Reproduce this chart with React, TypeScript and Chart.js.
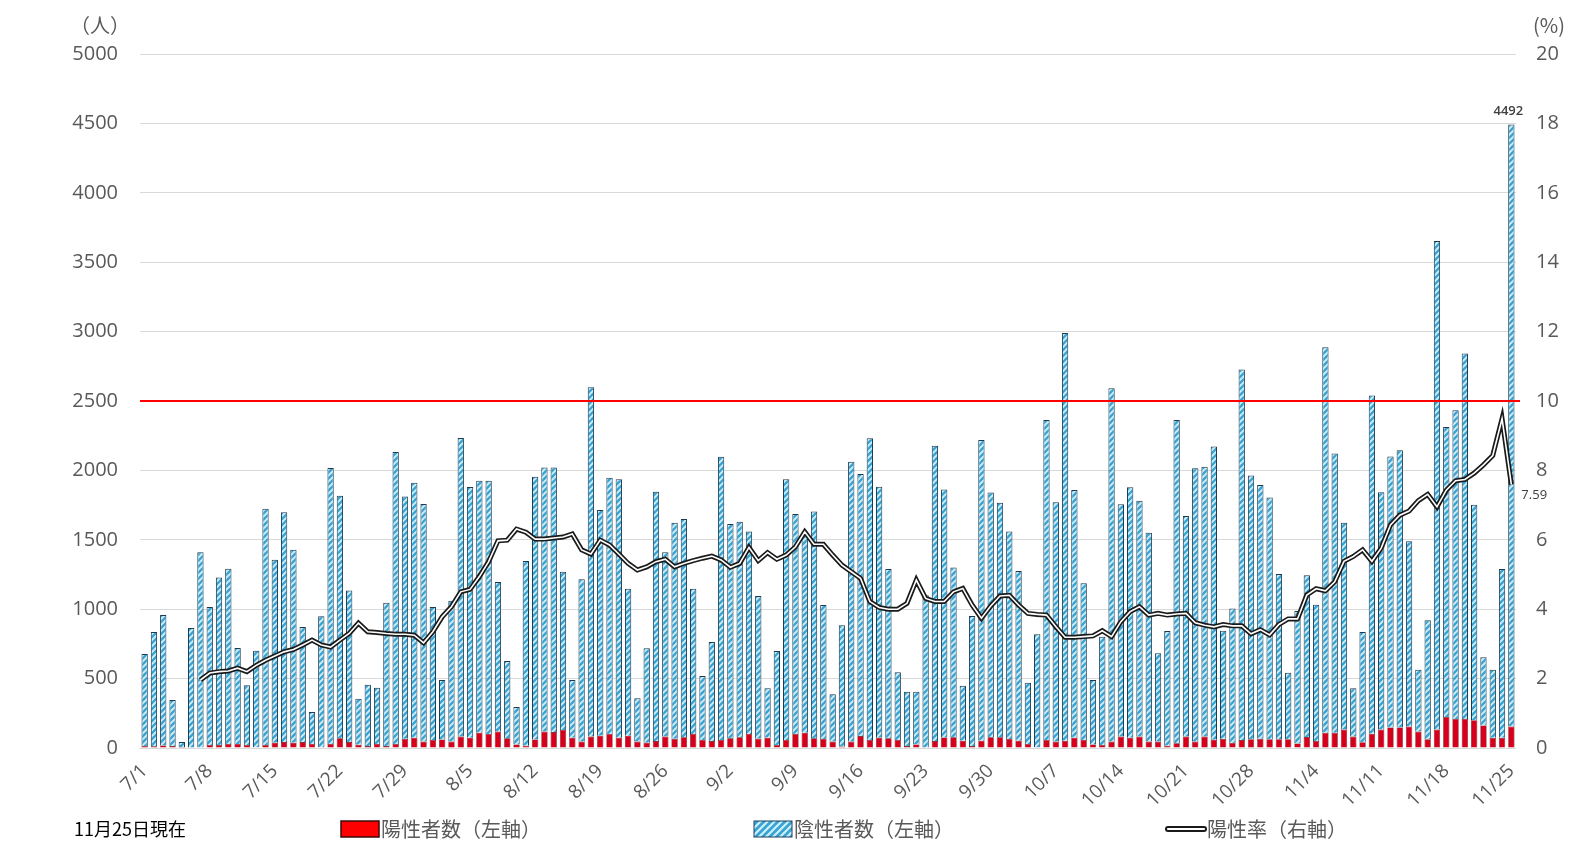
import React, { useEffect, useRef } from 'react';
import { Chart, registerables } from 'chart.js';
Chart.register(...registerables);

const categories = (
  '7/1 7/2 7/3 7/4 7/5 7/6 7/7 7/8 7/9 7/10 7/11 7/12 7/13 7/14 7/15 7/16 7/17 7/18 7/19 7/20 7/21 7/22 7/23 7/24 7/25 7/26 7/27 7/28 7/29 7/30 7/31 ' +
  '8/1 8/2 8/3 8/4 8/5 8/6 8/7 8/8 8/9 8/10 8/11 8/12 8/13 8/14 8/15 8/16 8/17 8/18 8/19 8/20 8/21 8/22 8/23 8/24 8/25 8/26 8/27 8/28 8/29 8/30 8/31 ' +
  '9/1 9/2 9/3 9/4 9/5 9/6 9/7 9/8 9/9 9/10 9/11 9/12 9/13 9/14 9/15 9/16 9/17 9/18 9/19 9/20 9/21 9/22 9/23 9/24 9/25 9/26 9/27 9/28 9/29 9/30 ' +
  '10/1 10/2 10/3 10/4 10/5 10/6 10/7 10/8 10/9 10/10 10/11 10/12 10/13 10/14 10/15 10/16 10/17 10/18 10/19 10/20 10/21 10/22 10/23 10/24 10/25 10/26 10/27 10/28 10/29 10/30 10/31 ' +
  '11/1 11/2 11/3 11/4 11/5 11/6 11/7 11/8 11/9 11/10 11/11 11/12 11/13 11/14 11/15 11/16 11/17 11/18 11/19 11/20 11/21 11/22 11/23 11/24 11/25'
).split(' ');

const tickLabels = ['7/1', '7/8', '7/15', '7/22', '7/29', '8/5', '8/12', '8/19', '8/26', '9/2', '9/9', '9/16', '9/23', '9/30', '10/7', '10/14', '10/21', '10/28', '11/4', '11/11', '11/18', '11/25'];

// 陽性者数
const positives = [
  15, 12, 18, 14, 8, 3, 3, 22, 22, 29, 29, 22, 5, 22, 38, 43, 38, 43, 29, 5, 29, 70, 43, 24, 14, 29, 14, 29, 66, 74, 46,
  58, 62, 46, 82, 74, 110, 101, 118, 70, 26, 17, 62, 118, 115, 130, 74, 46, 82, 89, 101, 74, 89, 46, 38, 50, 82, 66, 77, 101, 58,
  50, 58, 70, 77, 101, 67, 74, 22, 58, 101, 110, 70, 65, 46, 10, 46, 86, 58, 74, 70, 58, 14, 26, 3, 50, 76, 77, 53, 14, 53,
  77, 77, 65, 53, 29, 5, 58, 46, 53, 74, 58, 26, 22, 46, 82, 74, 82, 46, 46, 17, 34, 82, 46, 82, 60, 66, 36, 57, 63, 66, 63,
  63, 63, 33, 79, 51, 109, 109, 133, 82, 42, 103, 133, 148, 148, 154, 118, 63, 133, 224, 209, 209, 200, 163, 73, 73, 154
];

// 陰性者数
const negatives = [
  662, 824, 940, 332, 35, 861, 1408, 993, 1207, 1263, 691, 430, 696, 1702, 1319, 1655, 1391, 828, 230, 945, 1988, 1748, 1092, 331, 442, 405, 1033, 2103, 1746, 1837, 1712,
  958, 428, 1015, 2151, 1806, 1816, 1825, 1078, 557, 269, 1330, 1893, 1902, 1905, 1140, 416, 1169, 2517, 1626, 1846, 1862, 1059, 312, 680, 1797, 1328, 1557, 1573, 1047, 461,
  714, 2041, 1544, 1553, 1458, 1028, 356, 677, 1878, 1585, 1450, 1633, 965, 341, 874, 2017, 1888, 2173, 1809, 1220, 487, 392, 380, 1097, 2128, 1786, 1223, 396, 937, 2166,
  1763, 1690, 1494, 1222, 442, 814, 2305, 1724, 2937, 1785, 1129, 464, 780, 2545, 1674, 1804, 1700, 1505, 636, 826, 2329, 1589, 1969, 1945, 2113, 778, 969, 2670, 1901, 1829, 1741,
  1190, 479, 954, 1165, 981, 2778, 2013, 1489, 348, 793, 2436, 1710, 1952, 1998, 1335, 445, 857, 3520, 2088, 2224, 2633, 1552, 491, 490, 1216, 4338
];

// 陽性率 (%)
const positiveRate = [
  null, null, null, null, null, null, 1.96, 2.16, 2.2, 2.22, 2.3, 2.2, 2.38, 2.53, 2.65, 2.77, 2.84, 2.97, 3.11, 2.97, 2.91, 3.11, 3.3, 3.6, 3.35, 3.33, 3.3, 3.28, 3.28, 3.25, 3.03,
  3.35, 3.78, 4.07, 4.5, 4.57, 4.94, 5.37, 5.97, 5.99, 6.31, 6.22, 6.02, 6.02, 6.05, 6.08, 6.17, 5.71, 5.59, 5.99, 5.85, 5.59, 5.32, 5.13, 5.22, 5.37, 5.44, 5.22, 5.32, 5.4, 5.47,
  5.53, 5.42, 5.21, 5.32, 5.78, 5.4, 5.63, 5.44, 5.56, 5.8, 6.23, 5.87, 5.87, 5.56, 5.27, 5.08, 4.89, 4.22, 4.05, 4.0, 4.0, 4.17, 4.84, 4.31, 4.22, 4.22, 4.5, 4.6, 4.12, 3.74,
  4.09, 4.38, 4.4, 4.12, 3.88, 3.85, 3.83, 3.5, 3.19, 3.19, 3.21, 3.23, 3.38, 3.21, 3.64, 3.93, 4.07, 3.83, 3.88, 3.83, 3.86, 3.88, 3.61, 3.54, 3.49, 3.56, 3.52, 3.52, 3.29, 3.41, 3.26,
  3.56, 3.72, 3.72, 4.41, 4.59, 4.53, 4.79, 5.38, 5.52, 5.71, 5.38, 5.76, 6.43, 6.71, 6.83, 7.13, 7.31, 6.95, 7.43, 7.7, 7.74, 7.92, 8.16, 8.43, 9.49, 7.59
];

const threshold = 2500;
const leftAxis = { min: 0, max: 5000, step: 500 };
const rightAxis = { min: 0, max: 20, step: 2 };
const legendLabels = ['陽性者数（左軸）', '陰性者数（左軸）', '陽性率（右軸）'];
const noteText = '11月25日現在';
const leftUnit = '（人）';
const rightUnit = '(%)';

const JP = '"Noto Sans CJK JP", "Noto Sans", sans-serif';
const NUM = '"Open Sans", "Noto Sans", sans-serif';

function makeHatch(ctx: CanvasRenderingContext2D, size = 6) {
  const c = document.createElement('canvas');
  c.width = size;
  c.height = size;
  const g = c.getContext('2d')!;
  g.fillStyle = '#3aa3d3';
  g.fillRect(0, 0, size, size);
  g.strokeStyle = '#ccf1fb';
  g.lineWidth = size * 0.32;
  g.beginPath();
  g.moveTo(-1, size + 1); g.lineTo(size + 1, -1);
  g.moveTo(-1, 1); g.lineTo(1, -1);
  g.moveTo(size - 1, size + 1); g.lineTo(size + 1, size - 1);
  g.stroke();
  return ctx.createPattern(c, 'repeat')!;
}

export default function App() {
  const ref = useRef<HTMLCanvasElement | null>(null);
  useEffect(() => {
    const canvas = ref.current!;
    const ctx0 = canvas.getContext('2d')!;
    const hatch = makeHatch(ctx0, 6);
    const hatchLegend = makeHatch(ctx0, 7);

    const overlay = {
      id: 'overlay',
      afterDatasetsDraw(chart: any) {
        const { ctx, chartArea, scales } = chart;
        const ty = scales.y.getPixelForValue(threshold);
        ctx.save();
        ctx.strokeStyle = '#ff0000';
        ctx.lineWidth = 2;
        ctx.beginPath();
        ctx.moveTo(chartArea.left, ty);
        ctx.lineTo(chartArea.right + 4, ty);
        ctx.stroke();
        ctx.restore();
      },
      afterDraw(chart: any) {
        const { ctx } = chart;
        ctx.save();
        // value labels
        const last = negatives.length - 1;
        const barMeta = chart.getDatasetMeta(3);
        const bar = barMeta.data[last];
        ctx.fillStyle = '#404040';
        ctx.font = `600 13px ${NUM}`;
        ctx.textAlign = 'center';
        ctx.textBaseline = 'bottom';
        ctx.fillText(String(positives[last] + negatives[last]), bar.x - 3, bar.y - 7);
        const lineMeta = chart.getDatasetMeta(0);
        const pt = lineMeta.data[last];
        ctx.font = `13px ${NUM}`;
        ctx.textBaseline = 'middle';
        ctx.textAlign = 'left';
        ctx.fillText(String(positiveRate[last]), pt.x + 10, pt.y + 11);

        // units
        ctx.fillStyle = '#595959';
        ctx.font = `20px ${JP}`;
        ctx.textAlign = 'center';
        ctx.textBaseline = 'middle';
        ctx.fillText(leftUnit, 100, 25);
        ctx.fillText(rightUnit, 1549, 25);

        // note
        ctx.fillStyle = '#000';
        ctx.font = `18px ${JP}`;
        ctx.textAlign = 'left';
        ctx.fillText(noteText, 74, 829);

        // legend
        const ly = 829;
        ctx.font = `20px ${JP}`;
        ctx.fillStyle = '#ff0000';
        ctx.fillRect(341, 821, 38, 16);
        ctx.strokeStyle = '#3a0a0a';
        ctx.lineWidth = 1.5;
        ctx.strokeRect(341, 821, 38, 16);
        ctx.fillStyle = '#595959';
        ctx.fillText(legendLabels[0], 381, ly);

        ctx.fillStyle = hatchLegend;
        ctx.fillRect(754, 821, 38, 16);
        ctx.strokeStyle = '#1d3f5e';
        ctx.lineWidth = 1;
        ctx.strokeRect(754, 821, 38, 16);
        ctx.fillStyle = '#595959';
        ctx.fillText(legendLabels[1], 794, ly);

        ctx.lineCap = 'round';
        ctx.strokeStyle = '#1a1a1a';
        ctx.lineWidth = 6;
        ctx.beginPath(); ctx.moveTo(1168, ly); ctx.lineTo(1204, ly); ctx.stroke();
        ctx.strokeStyle = '#ffffff';
        ctx.lineWidth = 2.2;
        ctx.beginPath(); ctx.moveTo(1168, ly); ctx.lineTo(1204, ly); ctx.stroke();
        ctx.fillStyle = '#595959';
        ctx.fillText(legendLabels[2], 1207, ly);
        ctx.restore();
      },
    };

    const chart = new Chart(canvas, {
      type: 'bar',
      data: {
        labels: categories,
        datasets: [
          {
            type: 'line',
            label: '陽性率（右軸）',
            data: positiveRate,
            yAxisID: 'y1',
            borderColor: '#ffffff',
            borderWidth: 1.6,
            pointRadius: 0,
            tension: 0,
            order: 0,
            spanGaps: false,
          } as any,
          {
            type: 'line',
            label: '陽性率外枠',
            data: positiveRate,
            yAxisID: 'y1',
            borderColor: '#1a1a1a',
            borderWidth: 5,
            pointRadius: 0,
            tension: 0,
            order: 1,
          } as any,
          {
            label: '陽性者数（左軸）',
            data: positives,
            yAxisID: 'y',
            backgroundColor: '#d6001c',
            borderColor: '#5a0a0a',
            borderWidth: 0.6,
            barPercentage: 0.68,
            categoryPercentage: 1,
            order: 2,
          },
          {
            label: '陰性者数（左軸）',
            data: negatives,
            yAxisID: 'y',
            backgroundColor: hatch as any,
            borderColor: '#1f3a4c',
            borderWidth: 1,
            barPercentage: 0.68,
            categoryPercentage: 1,
            order: 3,
          },
        ],
      },
      options: {
        responsive: false,
        animation: false,
        events: [],
        layout: { padding: { top: 54, left: 0, right: 0, bottom: 0 } },
        plugins: { legend: { display: false }, tooltip: { enabled: false } },
        scales: {
          x: {
            stacked: true,
            grid: { display: false },
            border: { display: false },
            afterFit: (s: any) => { s.height = 96; },
            ticks: {
              autoSkip: false,
              minRotation: 45,
              maxRotation: 45,
              padding: 4,
              color: '#595959',
              font: { size: 19, family: NUM },
              callback: (_v: any, i: number) => (tickLabels.includes(categories[i]) ? categories[i] : null),
            },
          },
          y: {
            stacked: true,
            position: 'left',
            min: leftAxis.min,
            max: leftAxis.max,
            afterFit: (s: any) => { s.width = 140; },
            grid: { color: '#d9d9d9', lineWidth: 1, drawTicks: false },
            border: { display: false },
            ticks: {
              stepSize: leftAxis.step,
              padding: 22,
              color: '#595959',
              font: { size: 20, family: NUM },
              callback: (v: any) => String(v),
            },
          },
          y1: {
            position: 'right',
            min: rightAxis.min,
            max: rightAxis.max,
            afterFit: (s: any) => { s.width = 54; },
            grid: { display: false, drawTicks: false },
            border: { display: false },
            ticks: {
              stepSize: rightAxis.step,
              padding: 20,
              color: '#595959',
              font: { size: 20, family: NUM },
              callback: (v: any) => String(v),
            },
          },
        },
      },
      plugins: [overlay],
    });
    return () => chart.destroy();
  }, []);

  return (
    <div style={{ position: 'absolute', left: 0, top: 0, width: 1570, height: 844, background: '#fff' }}>
      <canvas ref={ref} width={1570} height={844} style={{ display: 'block' }} />
    </div>
  );
}
